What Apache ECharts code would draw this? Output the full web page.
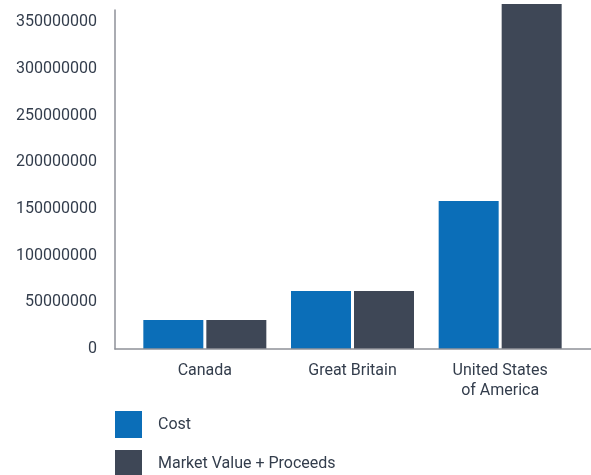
<!DOCTYPE html>
<html>
<head>
<meta charset="utf-8">
<script src="https://cdn.jsdelivr.net/npm/echarts@6/dist/echarts.min.js"></script>
<style>
  html, body { margin: 0; padding: 0; background: #fff; }
  #chart { width: 591px; height: 475px; }
</style>
</head>
<body>
<div id="chart"></div>
<script>
  // data
  const countries = ['Canada', 'Great Britain', 'United States\nof America'];
  const cost = [31000000, 62000000, 158500000];
  const marketValue = [31000000, 62000000, 369500000];
  const seriesNames = ['Cost', 'Market Value + Proceeds'];

  const textColor = '#333d4c';
  const axisColor = '#8e9198';
  const font = 'Roboto, "DejaVu Sans", sans-serif';

  const chart = echarts.init(document.getElementById('chart'));

  const option = {
    backgroundColor: '#fff',
    animation: false,
    textStyle: { fontFamily: font, color: textColor },
    grid: [
      // bars
      { left: 131, right: 17, top: 10, bottom: 126 },
      // only for the long baseline
      { left: 115, right: 0, top: 10, bottom: 126 }
    ],
    legend: {
      orient: 'vertical',
      left: 115,
      top: 411,
      height: 90,
      padding: 0,
      itemWidth: 27,
      itemHeight: 27,
      itemGap: 12,
      icon: 'rect',
      data: seriesNames,
      textStyle: { fontSize: 16, color: textColor, fontFamily: font, padding: [3, 0, 0, 11] }
    },
    xAxis: [
      {
        type: 'category',
        gridIndex: 0,
        data: countries,
        axisLine: { show: false },
        axisTick: { show: false },
        axisLabel: {
          fontSize: 16,
          color: textColor,
          margin: 12,
          lineHeight: 20,
          interval: 0
        }
      },
      {
        type: 'category',
        gridIndex: 1,
        data: countries,
        axisLine: { show: true, lineStyle: { color: axisColor, width: 1.5 } },
        axisTick: { show: false },
        axisLabel: { show: false },
        z: 5
      }
    ],
    yAxis: [
      {
        type: 'value',
        gridIndex: 0,
        min: 0,
        max: 363000000,
        interval: 50000000,
        offset: 16,
        axisLine: { show: true, lineStyle: { color: axisColor, width: 1.5 } },
        axisTick: { show: false },
        splitLine: { show: false },
        axisLabel: {
          fontSize: 16,
          color: textColor,
          margin: 18,
          showMaxLabel: false,
          padding: [0, 0, 9, 0],
          formatter: (v) => String(v)
        }
      },
      {
        type: 'value',
        gridIndex: 1,
        show: false
      }
    ],
    series: [
      {
        name: seriesNames[0],
        type: 'bar',
        xAxisIndex: 0,
        yAxisIndex: 0,
        data: cost,
        barWidth: 60,
        barGap: '5%',
        clip: false,
        itemStyle: { color: '#0b6eb8' }
      },
      {
        name: seriesNames[1],
        type: 'bar',
        xAxisIndex: 0,
        yAxisIndex: 0,
        data: marketValue,
        barWidth: 60,
        barGap: '5%',
        clip: false,
        itemStyle: { color: '#3e4756' }
      }
    ]
  };

  chart.setOption(option);
</script>
</body>
</html>
